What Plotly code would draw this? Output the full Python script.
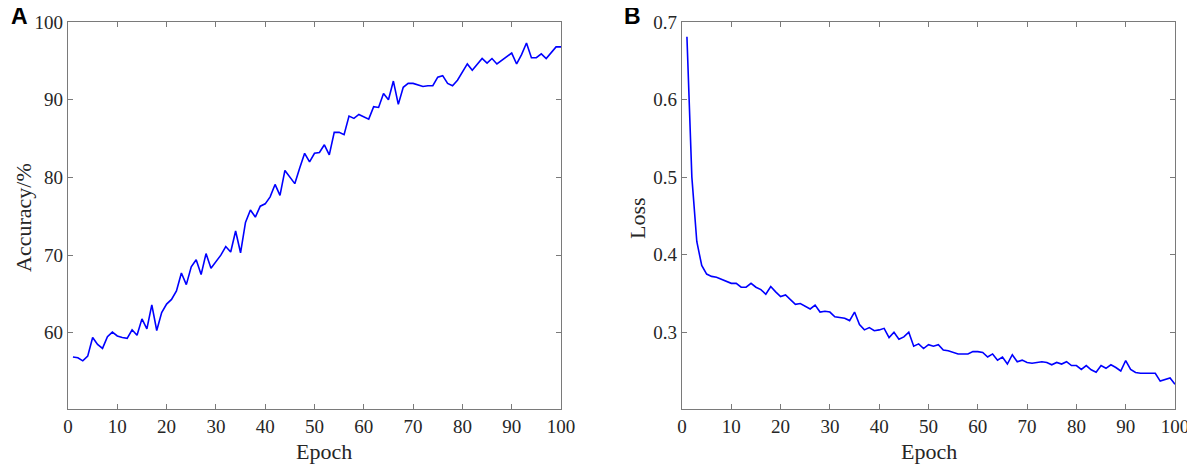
import plotly.graph_objects as go
from plotly.subplots import make_subplots

# epochs 1..100
epochs = list(range(1, 101))

# Painel A: acurácia (%) por época
accuracy = [
    56.9, 56.8, 56.4, 57.0, 59.4, 58.5, 58.0, 59.5, 60.1, 59.6,
    59.4, 59.3, 60.4, 59.7, 61.8, 60.5, 63.6, 60.3, 62.6, 63.7,
    64.3, 65.4, 67.7, 66.2, 68.5, 69.4, 67.5, 70.2, 68.3, 69.2,
    70.0, 71.1, 70.4, 73.1, 70.3, 74.2, 75.8, 74.9, 76.3, 76.6,
    77.5, 79.1, 77.7, 80.9, 80.0, 79.2, 81.2, 83.1, 82.0, 83.1,
    83.2, 84.2, 82.9, 85.8, 85.8, 85.5, 87.9, 87.6, 88.1, 87.8,
    87.5, 89.1, 89.0, 90.8, 90.0, 92.4, 89.4, 91.6, 92.1, 92.1,
    91.9, 91.7, 91.8, 91.8, 92.9, 93.1, 92.1, 91.8, 92.5, 93.6,
    94.6, 93.8, 94.5, 95.3, 94.7, 95.3, 94.6, 95.1, 95.5, 96.0,
    94.6, 95.8, 97.3, 95.4, 95.4, 95.9, 95.3, 96.1, 96.8, 96.8,
]

# Painel B: loss por época
loss = [
    0.681, 0.500, 0.417, 0.386, 0.375, 0.372, 0.371, 0.368, 0.365, 0.363,
    0.363, 0.358, 0.358, 0.363, 0.358, 0.355, 0.349, 0.359, 0.352, 0.346,
    0.348, 0.342, 0.336, 0.337, 0.333, 0.330, 0.335, 0.326, 0.327, 0.326,
    0.320, 0.319, 0.318, 0.315, 0.326, 0.310, 0.303, 0.306, 0.302, 0.303,
    0.305, 0.293, 0.300, 0.291, 0.294, 0.300, 0.282, 0.285, 0.279, 0.284,
    0.282, 0.284, 0.277, 0.276, 0.274, 0.272, 0.272, 0.272, 0.275, 0.275,
    0.274, 0.268, 0.272, 0.264, 0.268, 0.259, 0.271, 0.262, 0.264, 0.261,
    0.260, 0.261, 0.262, 0.261, 0.258, 0.261, 0.259, 0.262, 0.257, 0.257,
    0.252, 0.257, 0.2515, 0.2485, 0.257, 0.2535, 0.258, 0.2545, 0.250, 0.2635,
    0.252, 0.248, 0.247, 0.247, 0.247, 0.247, 0.237, 0.2395, 0.241, 0.233,
]

x_ticks = list(range(0, 101, 10))
acc_ticks = [60, 70, 80, 90, 100]
loss_ticks = [0.3, 0.4, 0.5, 0.6, 0.7]

# a página tem 8px de margem no body, então desloco tudo
OFF = 8
W, H = 1195 - OFF, 464 - OFF


def px(x):
    return (x - OFF) / W


def py(y):
    return 1 - (y - OFF) / H


serif = "Liberation Serif, Times New Roman, serif"
axis_col = "#7a7a7a"
text_col = "#262626"

fig = make_subplots(rows=1, cols=2)

fig.add_trace(go.Scatter(x=epochs, y=accuracy, mode="lines",
                         line=dict(color="#0000ff", width=1.6), showlegend=False), row=1, col=1)
fig.add_trace(go.Scatter(x=epochs, y=loss, mode="lines",
                         line=dict(color="#0000ff", width=1.6), showlegend=False), row=1, col=2)

common = dict(showline=True, linecolor=axis_col, linewidth=1.3, mirror="ticks",
              ticks="inside", ticklen=5, tickwidth=1, tickcolor=axis_col,
              showgrid=False, zeroline=False, automargin=False,
              tickfont=dict(family=serif, size=19, color=text_col))

fig.update_xaxes(common)
fig.update_yaxes(common)

fig.update_xaxes(range=[0, 100], tickvals=x_ticks, domain=[px(68), px(561)], row=1, col=1)
fig.update_xaxes(range=[0, 100], tickvals=x_ticks, domain=[px(682), px(1175)], row=1, col=2)
fig.update_yaxes(range=[50.2, 100], tickvals=acc_ticks, domain=[py(409), py(22)], row=1, col=1)
fig.update_yaxes(range=[0.201, 0.7], tickvals=loss_ticks, tickformat=".1f",
                 domain=[py(409), py(22)], row=1, col=2)

# títulos dos eixos
title_font = dict(family=serif, size=22, color=text_col)
for txt, xp, yp, ang in [("Epoch", 324, 451, 0), ("Epoch", 929, 451, 0),
                         ("Accuracy/%", 23, 218, -90), ("Loss", 637, 218, -90)]:
    fig.add_annotation(text=txt, x=px(xp), y=py(yp), xref="paper", yref="paper",
                       showarrow=False, xanchor="center", yanchor="middle",
                       textangle=ang, font=title_font)

# letras dos painéis
for letra, xp in [("A", 19), ("B", 632)]:
    fig.add_annotation(text="<b>%s</b>" % letra, x=px(xp), y=py(16), xref="paper", yref="paper",
                       showarrow=False, xanchor="center", yanchor="middle",
                       font=dict(family="Liberation Sans, Arial, sans-serif", size=23, color="black"))

fig.update_layout(width=W, height=H, margin=dict(l=0, r=0, t=0, b=0),
                  plot_bgcolor="white", paper_bgcolor="white")

fig.write_html("out.html")
